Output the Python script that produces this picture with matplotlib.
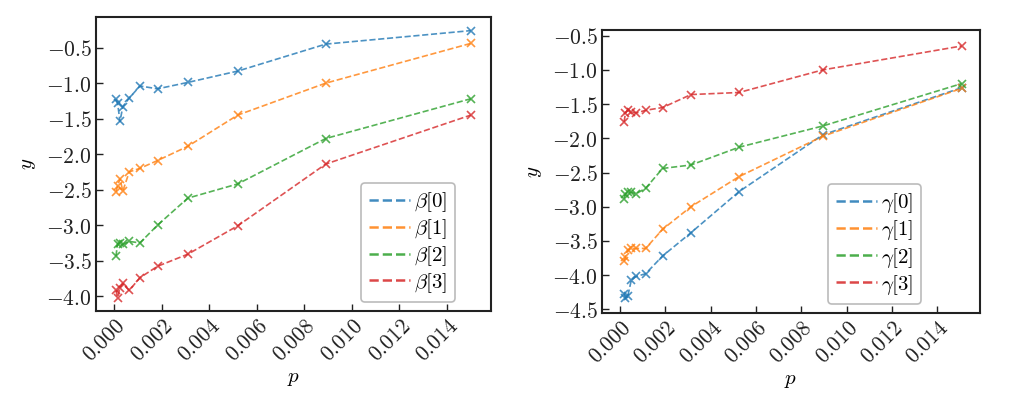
import matplotlib
matplotlib.use("Agg")
import matplotlib.pyplot as plt
from matplotlib.lines import Line2D
from matplotlib.ticker import FuncFormatter, MultipleLocator

plt.rcParams['mathtext.fontset'] = 'cm'
plt.rcParams['font.family'] = ['DejaVu Serif']

colors = ['#1f77b4', '#ff7f0e', '#2ca02c', '#d62728']

# Left panel (beta)
p_left = [0.00008, 0.00015, 0.00025, 0.00037, 0.00064, 0.00109, 0.00183, 0.0031, 0.0052, 0.0089, 0.015]
beta0 = [-1.23, -1.28, -1.54, -1.33, -1.21, -1.04, -1.08, -0.99, -0.83, -0.45, -0.26]
beta1 = [-2.53, -2.45, -2.35, -2.52, -2.25, -2.20, -2.09, -1.89, -1.45, -1.00, -0.44]
beta2 = [-3.44, -3.26, -3.25, -3.27, -3.23, -3.25, -3.00, -2.62, -2.42, -1.78, -1.22]
beta3 = [-3.92, -4.02, -3.88, -3.82, -3.92, -3.74, -3.58, -3.41, -3.01, -2.14, -1.45]
beta_labels = [r'$\beta[0]$', r'$\beta[1]$', r'$\beta[2]$', r'$\beta[3]$']

# Right panel (gamma)
p_right = [0.00018, 0.00024, 0.00034, 0.00050, 0.00071, 0.00113, 0.00188, 0.00313, 0.00525, 0.00894, 0.01507]
gamma0 = [-4.27, -4.34, -4.31, -4.07, -4.02, -3.98, -3.72, -3.38, -2.78, -1.95, -1.26]
gamma1 = [-3.80, -3.73, -3.63, -3.61, -3.61, -3.61, -3.33, -3.00, -2.56, -1.97, -1.27]
gamma2 = [-2.88, -2.81, -2.79, -2.79, -2.81, -2.73, -2.44, -2.39, -2.13, -1.82, -1.20]
gamma3 = [-1.76, -1.63, -1.59, -1.61, -1.63, -1.59, -1.55, -1.36, -1.33, -1.00, -0.65]
gamma_labels = [r'$\gamma[0]$', r'$\gamma[1]$', r'$\gamma[2]$', r'$\gamma[3]$']

xticks = [0.000, 0.002, 0.004, 0.006, 0.008, 0.010, 0.012, 0.014]

fig = plt.figure(figsize=(10.27, 3.97), dpi=100)
ax1 = fig.add_axes([0.0935, 0.2166, 0.3846, 0.7406])
ax2 = fig.add_axes([0.5862, 0.2123, 0.368, 0.712])


def draw(ax, p, series, labels, xlim, ylim, legend_anchor):
    for ys, c in zip(series, colors):
        ax.plot(p, ys, linestyle='--', color=c, linewidth=1.2, alpha=0.8,
                marker='x', markersize=6, markeredgewidth=1.2)
    ax.set_xlim(*xlim)
    ax.set_ylim(*ylim)
    ax.set_xticks(xticks)
    ax.yaxis.set_major_locator(MultipleLocator(0.5))
    ax.xaxis.set_major_formatter(FuncFormatter(lambda v, pos: r'$%.3f$' % v))
    ax.yaxis.set_major_formatter(FuncFormatter(lambda v, pos: r'$%.1f$' % v))
    ax.tick_params(direction='in', length=5, width=1, labelsize=15.5, colors='#222222', pad=3)
    for lab in ax.get_xticklabels():
        lab.set_rotation(45)
        lab.set_ha('right')
        lab.set_rotation_mode('anchor')
    for s in ax.spines.values():
        s.set_linewidth(1.5)
        s.set_color('#222222')
    ax.set_xlabel(r'$p$', fontsize=15, labelpad=2)
    ax.set_ylabel(r'$y$', fontsize=15, labelpad=6)
    handles = [Line2D([], [], linestyle='--', color=c, linewidth=1.8, alpha=0.85) for c in colors]
    leg = ax.legend(handles, labels, loc='lower right', bbox_to_anchor=legend_anchor,
                    borderaxespad=0, fontsize=15, handlelength=2.0, handletextpad=0.2,
                    labelspacing=0.15, borderpad=0.35, framealpha=1.0, fancybox=True)
    leg.get_frame().set_edgecolor('#bbbbbb')
    leg.get_frame().set_linewidth(1.2)


draw(ax1, p_left, [beta0, beta1, beta2, beta3], beta_labels,
     (-0.000757, 0.01585), (-4.21, -0.068), (0.909, 0.031))
draw(ax2, p_right, [gamma0, gamma1, gamma2, gamma3], gamma_labels,
     (-0.000794, 0.01588), (-4.55, -0.417), (0.844, 0.031))

fig.savefig('out.png', dpi=100)
